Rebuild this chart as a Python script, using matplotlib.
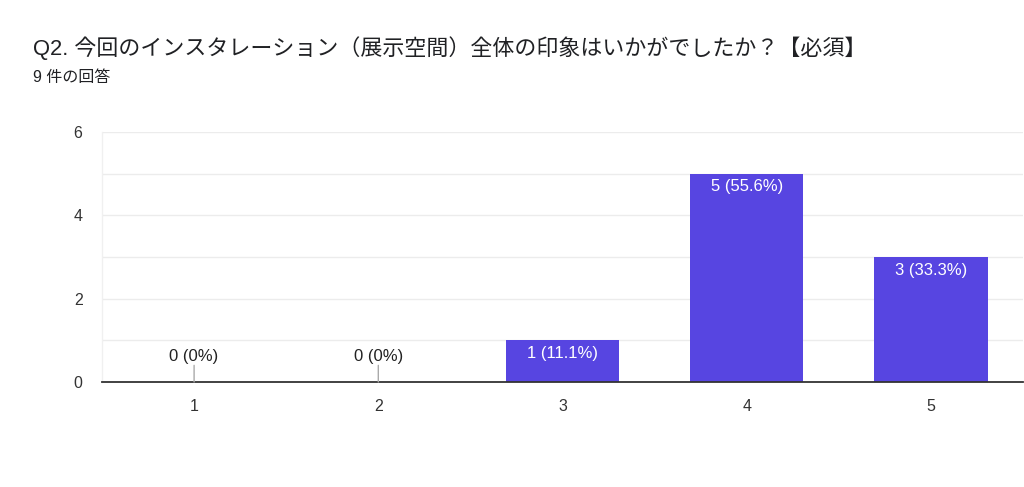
import matplotlib
matplotlib.use("Agg")
import matplotlib.pyplot as plt

categories = ["1", "2", "3", "4", "5"]
counts = [0, 0, 1, 5, 3]
labels = ["0 (0%)", "0 (0%)", "1 (11.1%)", "5 (55.6%)", "3 (33.3%)"]
yticks = [0, 2, 4, 6]

title = "Q2. 今回のインスタレーション（展示空間）全体の印象はいかがでしたか？【必須】"
subtitle = "9 件の回答"

FAM = ["Liberation Sans", "Noto Sans CJK JP", "DejaVu Sans"]
plt.rcParams["font.family"] = FAM

fig = plt.figure(figsize=(10.24, 4.87), dpi=100)
ax = fig.add_axes([102/1024, 105/487, 921/1024, 250/487])

x = list(range(1, len(categories) + 1))
bar_color = "#5745e1"
ax.bar(x, counts, width=0.615, color=bar_color, zorder=3)

ax.set_xlim(0.5, 5.5)
ax.set_ylim(0, 6)
ax.set_yticks(yticks)
ax.set_yticks([1, 3, 5], minor=True)
ax.set_xticks(x)
ax.set_xticklabels(categories)
ax.grid(axis="y", which="both", color="#ececec", linewidth=1, zorder=0)
ax.tick_params(axis="both", which="both", length=0, labelsize=11.5, colors="#333333")
ax.tick_params(axis="y", pad=14)
ax.tick_params(axis="x", pad=12)
for s in ["top", "right"]:
    ax.spines[s].set_visible(False)
ax.spines["left"].set_color("#f0f0f0")
ax.spines["left"].set_linewidth(1)
ax.spines["bottom"].set_color("#333333")
ax.spines["bottom"].set_linewidth(1.3)
ax.spines["bottom"].set_zorder(4)

for xi, c, lab in zip(x, counts, labels):
    if c == 0:
        ax.annotate("", xy=(xi, 0), xytext=(0, 12), textcoords="offset points",
                    arrowprops=dict(arrowstyle="-", color="#aaaaaa", lw=1, shrinkA=0, shrinkB=0),
                    zorder=5)
        ax.annotate(lab, xy=(xi, 0), xytext=(0, 18), textcoords="offset points",
                    ha="center", va="center", fontsize=12, color="#222222", zorder=5)
    else:
        ax.annotate(lab, xy=(xi, c), xytext=(0, -9.5), textcoords="offset points",
                    ha="center", va="center", fontsize=12, color="white", zorder=5)

fig.text(33/1024, 1 - 48/487, title, fontsize=15.8, color="#202124", va="center", ha="left")
fig.text(33/1024, 1 - 77/487, subtitle, fontsize=11.5, color="#202124", va="center", ha="left")

fig.savefig("out.png", dpi=100, facecolor="white")
